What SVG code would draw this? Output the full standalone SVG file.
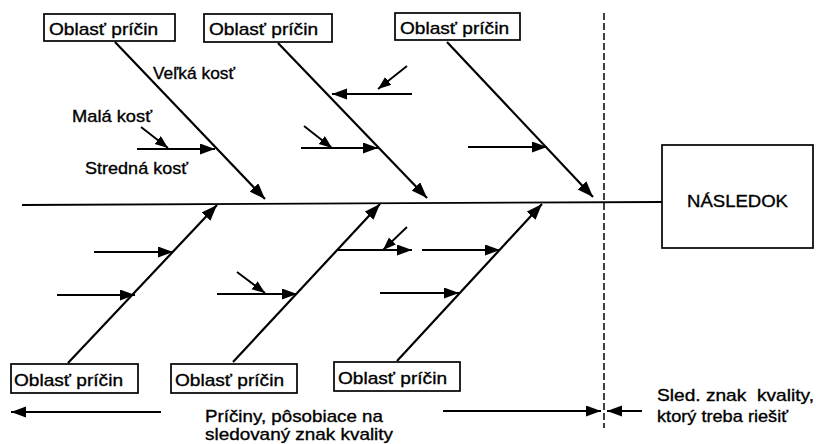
<svg xmlns="http://www.w3.org/2000/svg" width="816" height="444" viewBox="0 0 816 444">
<style>
text{font-family:"Liberation Sans",Arial,Helvetica,sans-serif;fill:#000;stroke:#000;stroke-width:0.35}
.lbl{font-size:17px}
.t{font-size:17px}
.box{fill:#fff;stroke:#000;stroke-width:1.7}
.bone{stroke:#000;stroke-width:2.2;fill:none;marker-end:url(#big)}
.sub{stroke:#000;stroke-width:1.9;fill:none;marker-end:url(#mid)}
.small{stroke:#000;stroke-width:1.9;fill:none;marker-end:url(#sm)}
.plain{stroke:#000;stroke-width:1.8;fill:none}
</style>
<defs>
<marker id="big" markerUnits="userSpaceOnUse" markerWidth="18" markerHeight="13" refX="16" refY="6" orient="auto"><path d="M0,0 L16,6 L0,12 z" fill="#000"/></marker>
<marker id="mid" markerUnits="userSpaceOnUse" markerWidth="16" markerHeight="12" refX="15" refY="5.5" orient="auto"><path d="M0,0 L15,5.5 L0,11 z" fill="#000"/></marker>
<marker id="sm" markerUnits="userSpaceOnUse" markerWidth="14" markerHeight="12" refX="13" refY="5" orient="auto"><path d="M0,0 L13,5 L0,10 z" fill="#000"/></marker>
</defs>

<g id="connectors">
<line class="plain" x1="22" y1="205" x2="662" y2="202"/>
<line x1="604" y1="13" x2="604" y2="428" stroke="#000" stroke-width="1.5" stroke-dasharray="7 3"/>
<line class="bone" x1="115" y1="42" x2="265" y2="199"/>
<line class="bone" x1="278" y1="43" x2="427" y2="198"/>
<line class="bone" x1="447" y1="42" x2="593" y2="197"/>
<line class="bone" x1="68" y1="363" x2="217" y2="205"/>
<line class="bone" x1="233" y1="362" x2="380" y2="204"/>
<line class="bone" x1="397" y1="361" x2="542" y2="204"/>

<line class="sub" x1="137" y1="149" x2="215" y2="149"/>
<line class="small" x1="141" y1="127" x2="168" y2="148"/>
<line class="sub" x1="412" y1="94" x2="332" y2="94"/>
<line class="small" x1="407" y1="66" x2="378" y2="89"/>
<line class="sub" x1="301" y1="148" x2="378" y2="148"/>
<line class="small" x1="304" y1="126" x2="332" y2="148"/>
<line class="sub" x1="468" y1="147" x2="547" y2="147"/>

<line class="sub" x1="94" y1="252" x2="173" y2="252"/>
<line class="sub" x1="57" y1="295" x2="135" y2="295"/>
<line class="sub" x1="217" y1="294" x2="297" y2="294"/>
<line class="small" x1="237" y1="272" x2="265" y2="293"/>
<line class="sub" x1="338" y1="250" x2="412" y2="250"/>
<line class="small" x1="407" y1="227" x2="383" y2="250"/>
<line class="sub" x1="422" y1="250" x2="500" y2="250"/>
<line class="sub" x1="380" y1="293" x2="459" y2="293"/>

<line class="sub" x1="161" y1="412" x2="11" y2="412"/>
<line class="sub" x1="443" y1="411" x2="601" y2="411"/>
<line class="sub" x1="642" y1="411" x2="607" y2="411"/>
</g>

<g id="cause-top-1"><rect class="box" x="44" y="14" width="131" height="27"/><text class="lbl" x="49" y="35" textLength="109" lengthAdjust="spacingAndGlyphs">Oblasť príčin</text></g>
<g id="cause-top-2"><rect class="box" x="204" y="14" width="128" height="28"/><text class="lbl" x="209" y="35" textLength="109" lengthAdjust="spacingAndGlyphs">Oblasť príčin</text></g>
<g id="cause-top-3"><rect class="box" x="395" y="13" width="125" height="27"/><text class="lbl" x="400" y="34" textLength="109" lengthAdjust="spacingAndGlyphs">Oblasť príčin</text></g>
<g id="cause-bottom-1"><rect class="box" x="11" y="364" width="127" height="29"/><text class="lbl" x="14" y="386" textLength="109" lengthAdjust="spacingAndGlyphs">Oblasť príčin</text></g>
<g id="cause-bottom-2"><rect class="box" x="171" y="364" width="126" height="29"/><text class="lbl" x="175" y="386" textLength="109" lengthAdjust="spacingAndGlyphs">Oblasť príčin</text></g>
<g id="cause-bottom-3"><rect class="box" x="334" y="362" width="126" height="29"/><text class="lbl" x="338" y="384" textLength="109" lengthAdjust="spacingAndGlyphs">Oblasť príčin</text></g>

<g id="effect"><rect class="box" x="662" y="145" width="151" height="103"/><text class="t" x="687" y="207" textLength="101" lengthAdjust="spacingAndGlyphs">NÁSLEDOK</text></g>

<g id="labels">
<text class="t" x="153" y="79" textLength="82" lengthAdjust="spacingAndGlyphs">Veľká kosť</text>
<text class="t" x="72" y="122" textLength="80" lengthAdjust="spacingAndGlyphs">Malá kosť</text>
<text class="t" x="85" y="174" textLength="103" lengthAdjust="spacingAndGlyphs">Stredná kosť</text>
<text class="t" x="205" y="422" textLength="178" lengthAdjust="spacingAndGlyphs">Príčiny, pôsobiace na</text>
<text class="t" x="205" y="440" textLength="188" lengthAdjust="spacingAndGlyphs">sledovaný znak kvality</text>
<text class="t" x="657" y="401" textLength="157" lengthAdjust="spacingAndGlyphs" xml:space="preserve">Sled. znak  kvality,</text>
<text class="t" x="657" y="422" textLength="131" lengthAdjust="spacingAndGlyphs">ktorý treba riešiť</text>
</g>
</svg>
